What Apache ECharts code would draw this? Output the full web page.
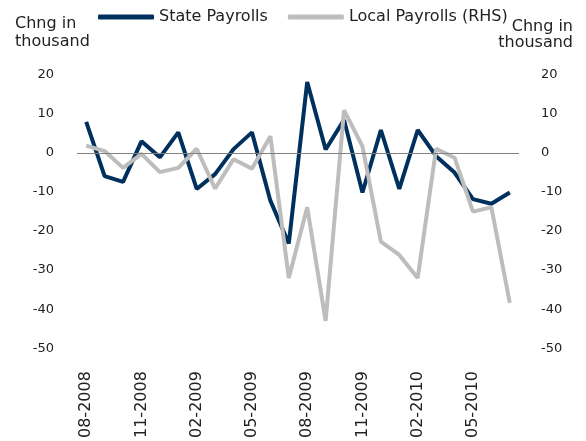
<!DOCTYPE html>
<html>
<head>
<meta charset="utf-8">
<script src="https://cdn.jsdelivr.net/npm/echarts@6/dist/echarts.min.js"></script>
<style>
html,body{margin:0;padding:0;background:#fff;}
#chart{width:586px;height:441px;}
</style>
</head>
<body>
<div id="chart"></div>
<script>
const months = ["08-2008","09-2008","10-2008","11-2008","12-2008","01-2009","02-2009","03-2009","04-2009","05-2009","06-2009","07-2009","08-2009","09-2009","10-2009","11-2009","12-2009","01-2010","02-2010","03-2010","04-2010","05-2010","06-2010","07-2010"];
const statePayrolls = [8.0,-5.9,-7.4,3.0,-1.1,5.3,-9.2,-5.4,1.0,5.3,-12.2,-23.2,18.2,0.9,8.5,-10.1,5.9,-9.2,5.9,-0.8,-5.0,-11.8,-13.0,-10.1];
const localPayrolls = [1.9,0.5,-3.8,-0.2,-4.9,-3.8,1.1,-9.1,-1.6,-4.0,4.3,-32.0,-13.9,-43.0,11.0,1.7,-22.7,-26.1,-32.0,1.1,-1.2,-15.0,-13.9,-38.4];
const yTicks = {min:-50, max:20, step:10};

const font = '"DejaVu Sans", Verdana, sans-serif';
const chart = echarts.init(document.getElementById('chart'));
chart.setOption({
  animation:false,
  backgroundColor:'#ffffff',
  grid:{left:77, right:67, top:75, bottom:89, containLabel:false},
  legend:{
    left:98, top:9, padding:0, itemGap:20, itemWidth:56, itemHeight:5,
    icon:'roundRect',
    textStyle:{fontFamily:font, fontSize:16, color:'#222'},
    data:['State Payrolls','Local Payrolls (RHS)']
  },
  graphic:[
    {type:'text', x:15, y:24, style:{text:'Chng in', font:'16px '+font, fill:'#222', textAlign:'left', textVerticalAlign:'middle'}},
    {type:'text', x:15, y:42, style:{text:'thousand', font:'16px '+font, fill:'#222', textAlign:'left', textVerticalAlign:'middle'}},
    {type:'text', x:573, y:27, style:{text:'Chng in', font:'16px '+font, fill:'#222', textAlign:'right', textVerticalAlign:'middle'}},
    {type:'text', x:573, y:43, style:{text:'thousand', font:'16px '+font, fill:'#222', textAlign:'right', textVerticalAlign:'middle'}}
  ],
  xAxis:{
    type:'category', data:months, boundaryGap:true,
    axisLine:{show:false}, axisTick:{show:false},
    axisLabel:{interval:2, rotate:90, margin:23, fontFamily:font, fontSize:16, color:'#222'}
  },
  yAxis:[
    {type:'value', min:yTicks.min, max:yTicks.max, interval:yTicks.step,
     axisLine:{show:false}, axisTick:{show:false}, splitLine:{show:false},
     axisLabel:{margin:23, fontFamily:font, fontSize:13, color:'#222'}},
    {type:'value', position:'right', min:yTicks.min, max:yTicks.max, interval:yTicks.step,
     axisLine:{show:false}, axisTick:{show:false}, splitLine:{show:false},
     axisLabel:{margin:22, fontFamily:font, fontSize:13, color:'#222'}}
  ],
  series:[
    {name:'State Payrolls', type:'line', data:statePayrolls, yAxisIndex:0,
     showSymbol:false, symbol:'none', lineStyle:{width:4, color:'#00305E'}, itemStyle:{color:'#00305E'},
     z:2,
     markLine:{silent:true, symbol:'none', label:{show:false},
       lineStyle:{color:'#808080', width:1, type:'solid'}, data:[{yAxis:0}]}},
    {name:'Local Payrolls (RHS)', type:'line', data:localPayrolls, yAxisIndex:1,
     showSymbol:false, symbol:'none', lineStyle:{width:4, color:'#BDBDBD'}, itemStyle:{color:'#BDBDBD'},
     z:3}
  ]
});
</script>
</body>
</html>
